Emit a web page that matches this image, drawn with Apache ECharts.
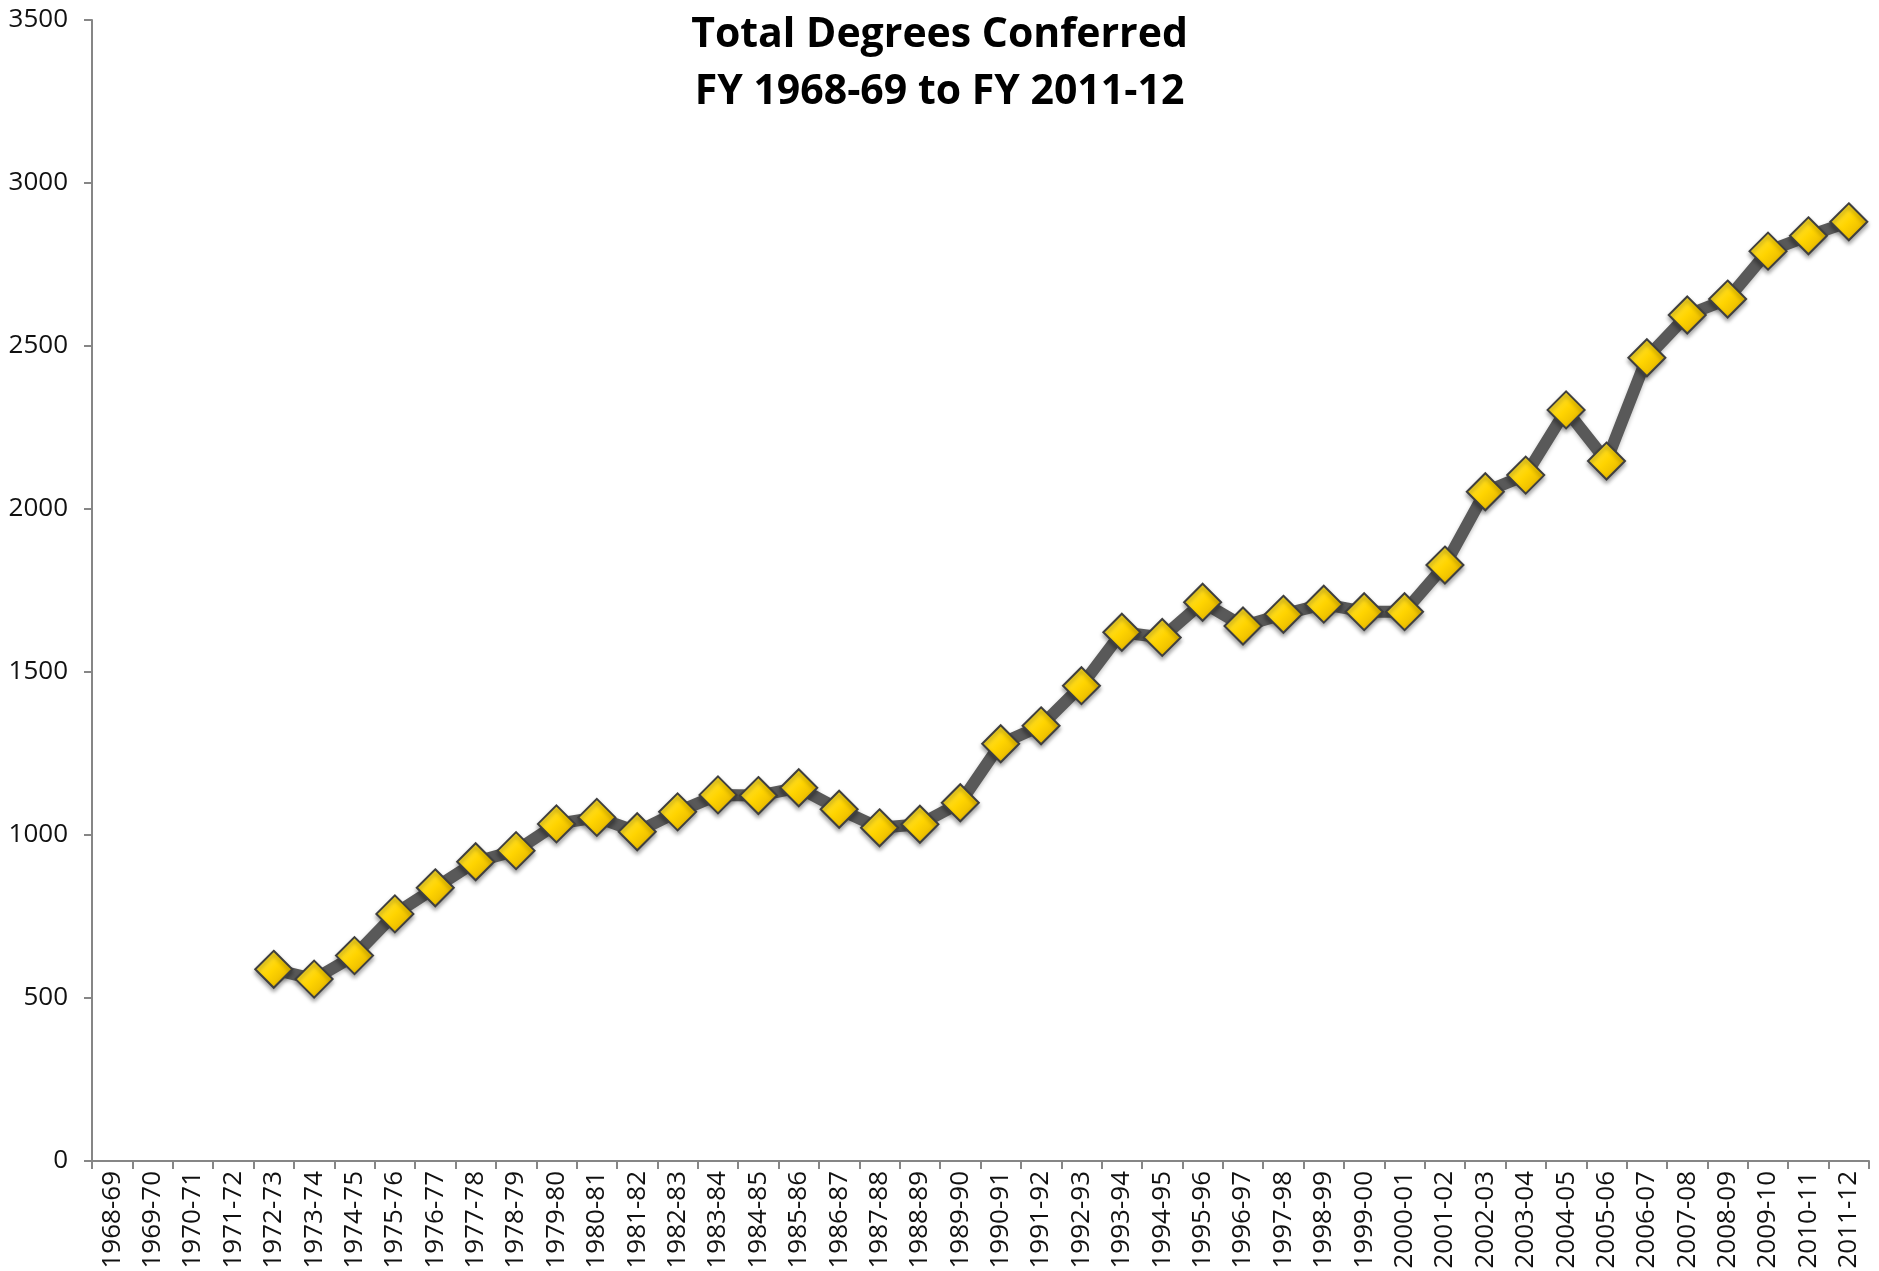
<!DOCTYPE html>
<html>
<head>
<meta charset="utf-8">
<script src="https://cdn.jsdelivr.net/npm/echarts@6/dist/echarts.min.js"></script>
<style>
  html, body {margin: 0; padding: 0; background: #fff;}
  #chart {width: 1879px; height: 1271px;}
</style>
</head>
<body>
<div id="chart"></div>
<script>
// fiscal years on the x axis
const years = ['1968-69', '1969-70', '1970-71', '1971-72', '1972-73', '1973-74', '1974-75', '1975-76',
    '1976-77', '1977-78', '1978-79', '1979-80', '1980-81', '1981-82', '1982-83', '1983-84', '1984-85',
    '1985-86', '1986-87', '1987-88', '1988-89', '1989-90', '1990-91', '1991-92', '1992-93', '1993-94',
    '1994-95', '1995-96', '1996-97', '1997-98', '1998-99', '1999-00', '2000-01', '2001-02', '2002-03',
    '2003-04', '2004-05', '2005-06', '2006-07', '2007-08', '2008-09', '2009-10', '2010-11', '2011-12'];

// total degrees conferred (no data for the first four years)
const degrees = [null, null, null, null, 588, 558, 630, 758, 838, 918, 952, 1034, 1054, 1010, 1071, 1123,
    1121, 1145, 1079, 1022, 1033, 1099, 1280, 1335, 1458, 1622, 1606, 1714, 1641, 1677, 1708, 1685,
    1685, 1828, 2053, 2104, 2304, 2147, 2464, 2595, 2644, 2791, 2838, 2881];

const titleLines = ['Total Degrees Conferred', 'FY 1968-69 to FY 2011-12'];

const font = '"Open Sans", "Liberation Sans", sans-serif';
const axisGray = '#868686';

const chart = echarts.init(document.getElementById('chart'));
chart.setOption({
    animation: false,
    backgroundColor: '#fff',
    title: {
        text: titleLines.join('\n'),
        left: 'center',
        top: 2,
        textStyle: {
            fontFamily: font,
            fontWeight: 'bold',
            fontSize: 41,
            lineHeight: 57,
            color: '#000'
        }
    },
    grid: {
        left: 92,
        right: 10,
        top: 20,
        bottom: 110,
        containLabel: false,
        outerBoundsMode: 'none'
    },
    xAxis: {
        type: 'category',
        data: years,
        boundaryGap: true,
        axisLine: {show: true, lineStyle: {color: axisGray, width: 2}},
        axisTick: {show: true, length: 8, lineStyle: {color: axisGray, width: 2}},
        axisLabel: {
            interval: 0,
            rotate: 90,
            margin: 10,
            fontFamily: font,
            fontSize: 26,
            color: '#111'
        },
        splitLine: {show: false}
    },
    yAxis: {
        type: 'value',
        min: 0,
        max: 3500,
        interval: 500,
        axisLine: {show: true, lineStyle: {color: axisGray, width: 2}},
        axisTick: {show: true, length: 8, lineStyle: {color: axisGray, width: 2}},
        axisLabel: {
            margin: 24,
            fontFamily: font,
            fontSize: 26,
            color: '#111',
            formatter: (v) => String(v)
        },
        splitLine: {show: false}
    },
    series: [{
        type: 'line',
        data: degrees,
        symbol: 'diamond',
        symbolSize: 37,
        lineStyle: {
            color: '#595959',
            width: 12,
            shadowColor: 'rgba(0,0,0,0.25)',
            shadowBlur: 4,
            shadowOffsetY: 2
        },
        itemStyle: {
            color: new echarts.graphic.LinearGradient(0, 0, 1, 1, [
                {offset: 0, color: '#FFEB55'},
                {offset: 0.5, color: '#FFD400'},
                {offset: 1, color: '#D9A800'}
            ]),
            borderColor: '#3F3F3F',
            borderWidth: 2,
            shadowColor: 'rgba(0,0,0,0.35)',
            shadowBlur: 4,
            shadowOffsetY: 3
        },
        emphasis: {disabled: true},
        z: 3
    }]
});
</script>
</body>
</html>
